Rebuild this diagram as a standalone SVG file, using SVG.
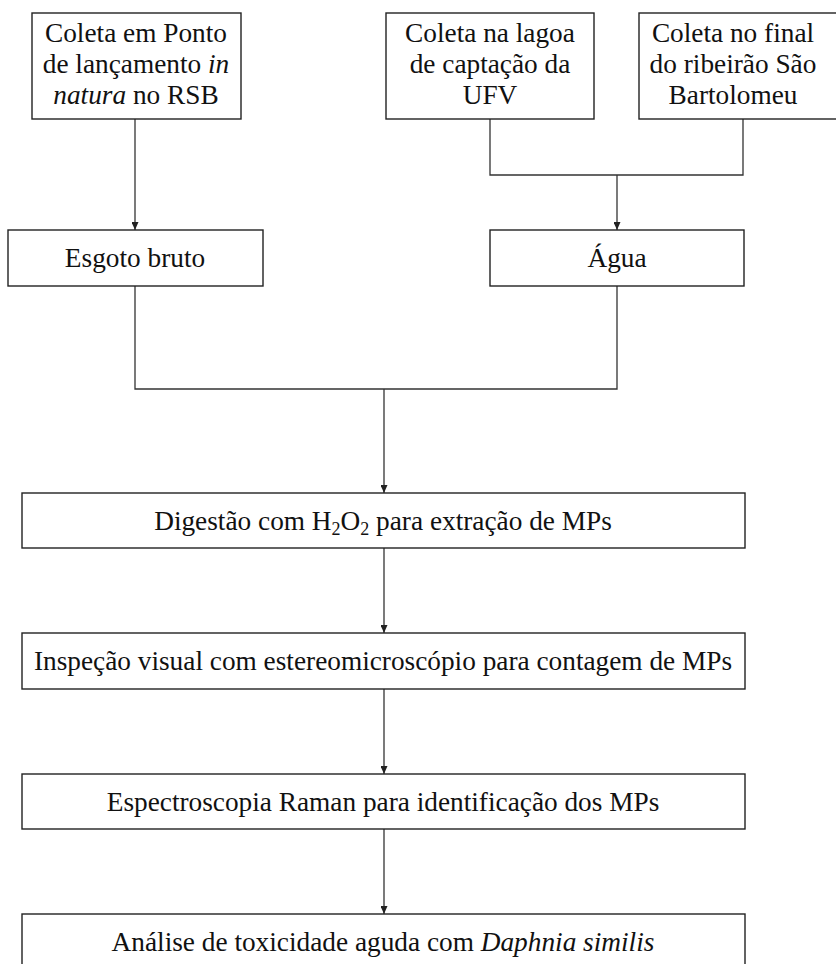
<svg xmlns="http://www.w3.org/2000/svg" width="836" height="964" viewBox="0 0 836 964">
<style>
.box{fill:#fff;stroke:#222;stroke-width:1.4}
.t{font-size:27.3px;fill:#111;text-anchor:middle}
.c{fill:none;stroke:#333;stroke-width:1.3}
</style>
<defs>
<marker id="arr" markerUnits="userSpaceOnUse" markerWidth="7" markerHeight="8" refX="3.5" refY="8" orient="0">
<path d="M0,0 L7,0 L3.5,8 z" fill="#222"/>
</marker>
</defs>
<rect width="836" height="964" fill="#fff"/>
<g id="connectors">
<path class="c" d="M135,119 V230" marker-end="url(#arr)"/>
<path class="c" d="M490,119 V175 H743 V119"/>
<path class="c" d="M617,175 V230" marker-end="url(#arr)"/>
<path class="c" d="M135,286 V389 H617 V286"/>
<path class="c" d="M384,389 V493" marker-end="url(#arr)"/>
<path class="c" d="M384,548 V633" marker-end="url(#arr)"/>
<path class="c" d="M384,689 V774" marker-end="url(#arr)"/>
<path class="c" d="M384,829 V914" marker-end="url(#arr)"/>
</g>
<g font-family="Liberation Serif">
<g id="n1">
<rect class="box" x="32" y="13" width="209" height="106"/>
<text class="t" font-family="Liberation Serif" x="136" y="42">Coleta em Ponto</text>
<text class="t" font-family="Liberation Serif" x="136" y="73">de lançamento <tspan font-style="italic">in</tspan></text>
<text class="t" font-family="Liberation Serif" x="136" y="104"><tspan font-style="italic">natura</tspan> no RSB</text>
</g>
<g id="n2">
<rect class="box" x="386" y="13" width="208" height="106"/>
<text class="t" font-family="Liberation Serif" x="490" y="42">Coleta na lagoa</text>
<text class="t" font-family="Liberation Serif" x="490" y="73">de captação da</text>
<text class="t" font-family="Liberation Serif" x="490" y="104">UFV</text>
</g>
<g id="n3">
<rect class="box" x="639" y="13" width="210" height="106"/>
<text class="t" font-family="Liberation Serif" x="733" y="42">Coleta no final</text>
<text class="t" font-family="Liberation Serif" x="733" y="73">do ribeirão São</text>
<text class="t" font-family="Liberation Serif" x="733" y="104">Bartolomeu</text>
</g>
<g id="n4">
<rect class="box" x="8" y="230" width="255" height="56"/>
<text class="t" font-family="Liberation Serif" x="135" y="267">Esgoto bruto</text>
</g>
<g id="n5">
<rect class="box" x="490" y="230" width="254" height="56"/>
<text class="t" font-family="Liberation Serif" x="617" y="267">Água</text>
</g>
<g id="n6">
<rect class="box" x="22" y="493" width="723" height="55"/>
<text class="t" font-family="Liberation Serif" x="383" y="530">Digestão com H<tspan font-size="18" dy="5">2</tspan><tspan dy="-5">O</tspan><tspan font-size="18" dy="5">2</tspan><tspan dy="-5"> para extração de MPs</tspan></text>
</g>
<g id="n7">
<rect class="box" x="22" y="633" width="723" height="56"/>
<text class="t" font-family="Liberation Serif" x="383" y="670">Inspeção visual com estereomicroscópio para contagem de MPs</text>
</g>
<g id="n8">
<rect class="box" x="22" y="774" width="723" height="55"/>
<text class="t" font-family="Liberation Serif" x="383" y="811">Espectroscopia Raman para identificação dos MPs</text>
</g>
<g id="n9">
<rect class="box" x="22" y="914" width="723" height="56"/>
<text class="t" font-family="Liberation Serif" x="383" y="951">Análise de toxicidade aguda com <tspan font-style="italic">Daphnia similis</tspan></text>
</g>
</g>
</svg>
